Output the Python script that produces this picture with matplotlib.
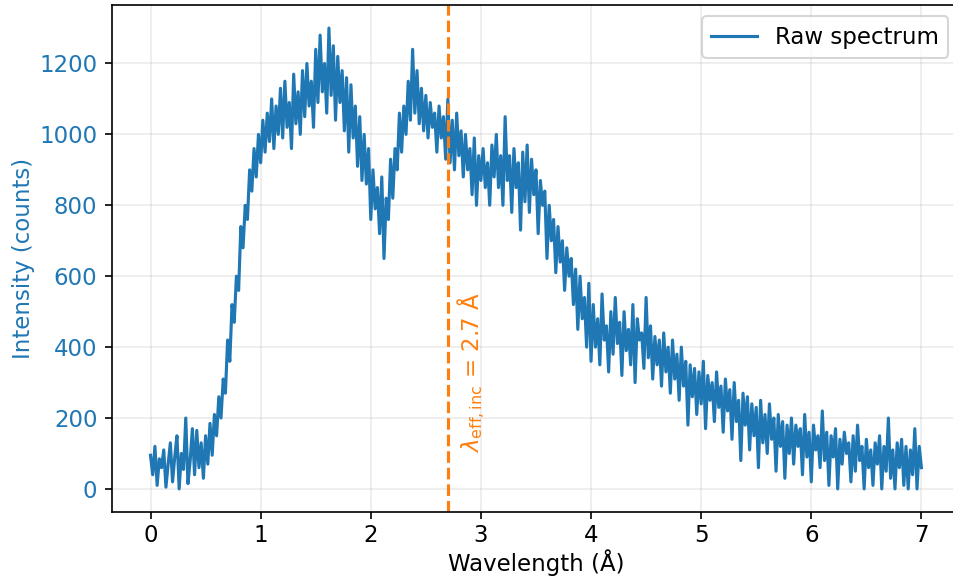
# raw spectrum with the effective incident wavelength marked

import numpy as np
import matplotlib.pyplot as plt

plt.rcParams['font.size'] = 11

wl_step = 0.02
intensity = [
    95, 40, 120, 10, 85, 60, 110, 5, 70, 130,
    20, 90, 150, 0, 100, 55, 200, 15, 80, 170,
    40, 165, 60, 130, 30, 150, 70, 185, 95, 210,
    150, 260, 200, 310, 270, 420, 360, 520, 470, 600,
    560, 740, 680, 800, 760, 900, 840, 960, 880, 1000,
    920, 1040, 950, 1060, 980, 1100, 960, 1080, 1000, 1130,
    990, 1150, 1020, 1090, 960, 1170, 1030, 1120, 1000, 1180,
    1050, 1200, 1080, 1150, 1020, 1240, 1090, 1280, 1120, 1200,
    1060, 1300, 1110, 1250, 1040, 1220, 1090, 1180, 1010, 1160,
    950, 1140, 990, 1080, 910, 1050, 870, 1000, 860, 960,
    760, 900, 790, 850, 720, 880, 650, 820, 760, 930,
    820, 960, 900, 1060, 950, 1080, 1000, 1150, 1040, 1240,
    1060, 1180, 1030, 1130, 1010, 1110, 990, 1090, 1020, 1060,
    950, 1080, 990, 1050, 930, 1100, 920, 1040, 900, 1060,
    940, 1010, 880, 1000, 900, 960, 830, 990, 800, 940,
    870, 960, 850, 920, 800, 970, 880, 1000, 850, 940,
    800, 1050, 870, 940, 780, 960, 850, 920, 730, 950,
    810, 970, 780, 930, 830, 900, 720, 870, 800, 840,
    650, 800, 700, 760, 610, 740, 640, 700, 560, 680,
    600, 650, 520, 620, 450, 600, 480, 540, 400, 580,
    360, 520, 400, 480, 350, 550, 420, 460, 330, 500,
    380, 540, 410, 470, 320, 500, 390, 450, 350, 520,
    300, 480, 420, 440, 340, 540, 370, 460, 310, 430,
    350, 420, 290, 440, 330, 400, 270, 420, 310, 380,
    250, 400, 290, 360, 180, 350, 260, 340, 210, 330,
    240, 360, 170, 320, 250, 300, 190, 330, 230, 290,
    160, 310, 220, 280, 140, 300, 190, 250, 80, 270,
    180, 260, 110, 240, 150, 230, 60, 250, 130, 210,
    100, 240, 140, 200, 50, 210, 120, 190, 30, 180,
    100, 200, 70, 180, 120, 170, 40, 210, 90, 160,
    20, 180, 110, 150, 60, 220, 80, 160, 10, 150,
    90, 170, 0, 140, 70, 160, 100, 130, 20, 150,
    50, 180, 80, 120, 0, 140, 60, 110, 10, 130,
    70, 150, 0, 120, 50, 200, 30, 110, 0, 130,
    60, 140, 10, 120, 0, 110, 40, 170, 0, 120,
    60,
]
wavelength = np.arange(len(intensity)) * wl_step
lam_eff = 2.7

fig = plt.figure(figsize=(953 / 150, 581 / 150), dpi=150)
# the reference is cut off just inside the right spine
ax = fig.add_axes([0.1175, 0.1188, 0.8898, 0.8726])

ax.plot(wavelength, intensity, color='C0', label='Raw spectrum')
ax.axvline(lam_eff, color='C1', ls='--')
ax.text(lam_eff + 0.07, 100, r'$\lambda_{\mathrm{eff,inc}}$ = %.1f Å' % lam_eff,
        color='C1', rotation=90, ha='left', va='bottom')

ax.set_xlabel('Wavelength (Å)', labelpad=1)
ax.set_ylabel('Intensity (counts)', color='C0', labelpad=2)
ax.tick_params(axis='y', labelcolor='C0')
ax.tick_params(axis='x', pad=2.5)
ax.grid(alpha=0.25)
ax.legend(loc='upper right')

plt.savefig('out.png', dpi=150)
